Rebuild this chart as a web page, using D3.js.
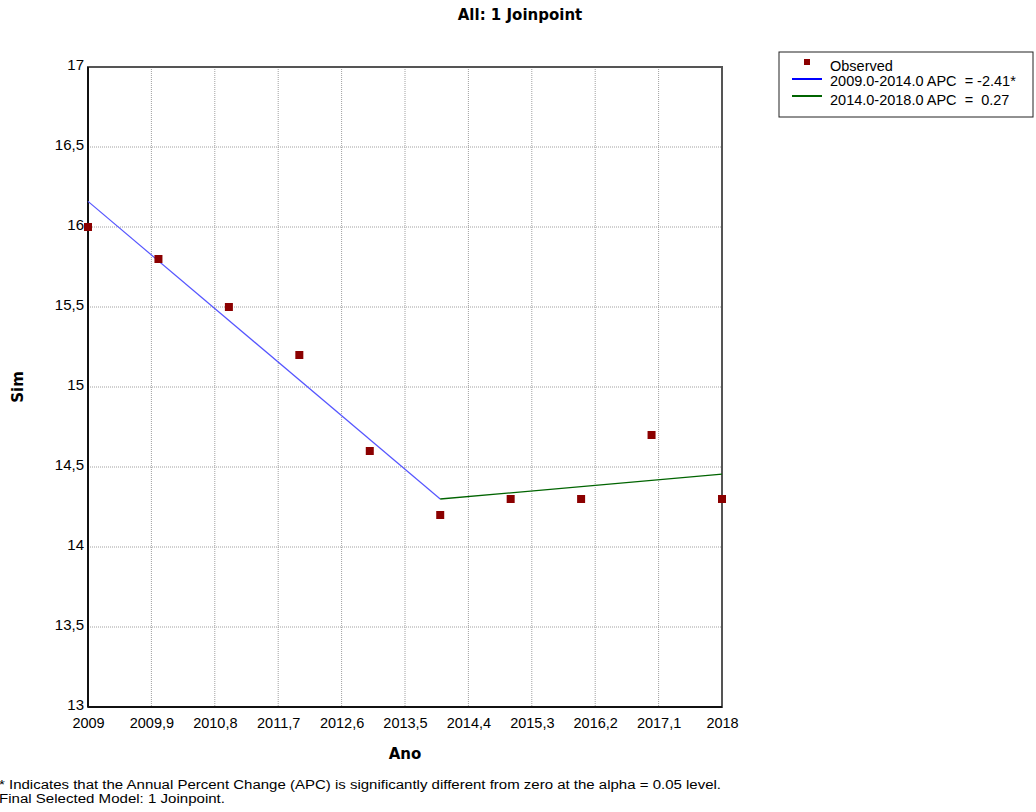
<!DOCTYPE html>
<html>
<head>
<meta charset="utf-8">
<script src="https://cdn.jsdelivr.net/npm/d3@7"></script>
<style>
  body { margin: 0; background: #fff; }
  svg { font-family: "Liberation Sans", Arial, sans-serif; }
  .bold { font-family: "DejaVu Sans", Verdana, sans-serif; font-weight: bold; }
  .pre { white-space: pre; }
</style>
</head>
<body>
<div id="chart"></div>
<script>
// observed values per year
var years = [2009, 2010, 2011, 2012, 2013, 2014, 2015, 2016, 2017, 2018];
var observed = [16.0, 15.8, 15.5, 15.2, 14.6, 14.2, 14.3, 14.3, 14.7, 14.3];

// joinpoint segments (modelled endpoints)
var seg1Years = [2009, 2014];
var seg1Values = [16.16, 14.30];
var seg2Years = [2014, 2018];
var seg2Values = [14.30, 14.455];

var xTicks = [2009, 2009.9, 2010.8, 2011.7, 2012.6, 2013.5, 2014.4, 2015.3, 2016.2, 2017.1, 2018];
var yTicks = [13, 13.5, 14, 14.5, 15, 15.5, 16, 16.5, 17];

var legendLabels = ["Observed", "2009.0-2014.0 APC  = -2.41*", "2014.0-2018.0 APC  =  0.27"];

var outerWidth = 1036, outerHeight = 812;
var margin = {top: 67, right: 314, bottom: 105, left: 88};
var width = outerWidth - margin.left - margin.right,
    height = outerHeight - margin.top - margin.bottom;

var fmt = function (v) { return String(v).replace(".", ","); };

var svg = d3.select("#chart").append("svg")
    .attr("width", outerWidth)
    .attr("height", outerHeight);

var x = d3.scaleLinear().domain([2009, 2018]).range([0, width]);
var y = d3.scaleLinear().domain([13, 17]).range([height, 0]);

var g = svg.append("g").attr("transform", "translate(" + margin.left + "," + margin.top + ")");

// grid
g.selectAll(".vgrid").data(xTicks.slice(1, -1)).enter().append("line")
    .attr("x1", d => x(d)).attr("x2", d => x(d))
    .attr("y1", 0).attr("y2", height)
    .attr("stroke", "#a0a0a0").attr("stroke-width", 1)
    .attr("stroke-dasharray", "1,1");
g.selectAll(".hgrid").data(yTicks.slice(1, -1)).enter().append("line")
    .attr("x1", 0).attr("x2", width)
    .attr("y1", d => y(d)).attr("y2", d => y(d))
    .attr("stroke", "#a0a0a0").attr("stroke-width", 1)
    .attr("stroke-dasharray", "1,1");

// frame
g.append("rect").attr("x", 0).attr("y", 0).attr("width", width).attr("height", height)
    .attr("fill", "none").attr("stroke", "#555").attr("stroke-width", 2);
g.append("line").attr("x1", 0).attr("x2", 0).attr("y1", 0).attr("y2", height)
    .attr("stroke", "#111").attr("stroke-width", 2);
g.append("line").attr("x1", 0).attr("x2", width).attr("y1", height).attr("y2", height)
    .attr("stroke", "#111").attr("stroke-width", 2);

// axes (labels only)
var xAxis = d3.axisBottom(x).tickValues(xTicks).tickSize(0).tickPadding(11).tickFormat(fmt);
var yAxis = d3.axisLeft(y).tickValues(yTicks).tickSize(0).tickPadding(4).tickFormat(fmt);
g.append("g").attr("transform", "translate(0," + height + ")").call(xAxis)
    .call(a => a.select(".domain").remove())
    .selectAll("text").attr("fill", "#000")
    .style("font-size", "14.5px")
    .style("font-family", "Liberation Sans, Arial, sans-serif");
g.append("g").call(yAxis)
    .call(a => a.select(".domain").remove())
    .selectAll("text").attr("fill", "#000")
    .attr("y", -2)
    .style("font-size", "15px")
    .style("font-family", "Liberation Sans, Arial, sans-serif");

// segments
var line = d3.line().x(d => x(d[0])).y(d => y(d[1]));
g.append("path").datum(d3.zip(seg1Years, seg1Values))
    .attr("d", line).attr("fill", "none").attr("stroke", "#5555ff").attr("stroke-width", 1.2);
g.append("path").datum(d3.zip(seg2Years, seg2Values))
    .attr("d", line).attr("fill", "none").attr("stroke", "#006400").attr("stroke-width", 1.3);

// observed points
g.selectAll(".pt").data(d3.zip(years, observed)).enter().append("rect")
    .attr("x", d => x(d[0]) - 4).attr("y", d => y(d[1]) - 4)
    .attr("width", 8).attr("height", 8)
    .attr("fill", "#8b0000");

// title and axis labels
svg.append("text").attr("class", "bold").attr("x", 520).attr("y", 20).attr("text-anchor", "middle")
    .attr("font-size", 15).text("All: 1 Joinpoint");
svg.append("text").attr("class", "bold").attr("x", 405).attr("y", 759).attr("text-anchor", "middle")
    .attr("font-size", 15).text("Ano");
svg.append("text").attr("class", "bold").attr("transform", "translate(23,387) rotate(-90)")
    .attr("text-anchor", "middle").attr("font-size", 15).text("Sim");

// legend
var lg = svg.append("g").attr("transform", "translate(779,52)");
lg.append("rect").attr("width", 254).attr("height", 65)
    .attr("fill", "#fff").attr("stroke", "#222").attr("stroke-width", 1);
lg.append("rect").attr("x", 25).attr("y", 7).attr("width", 6).attr("height", 6).attr("fill", "#8b0000");
lg.append("line").attr("x1", 13).attr("x2", 43).attr("y1", 27).attr("y2", 27)
    .attr("stroke", "#0000ff").attr("stroke-width", 2);
lg.append("line").attr("x1", 13).attr("x2", 43).attr("y1", 44).attr("y2", 44)
    .attr("stroke", "#006400").attr("stroke-width", 2);
lg.selectAll(".lt").data(legendLabels).enter().append("text")
    .attr("class", "pre")
    .attr("x", 51).attr("y", (d, i) => [19, 34, 53][i])
    .attr("font-size", 14.5).text(d => d);

// footnote
var notes = ["* Indicates that the Annual Percent Change (APC) is significantly different from zero at the alpha = 0.05 level.",
             "Final Selected Model: 1 Joinpoint."];
var noteLengths = [722, 226];
svg.selectAll(".note").data(notes).enter().append("text")
    .attr("x", -1).attr("y", (d, i) => 789 + i * 14)
    .attr("font-size", 12.5)
    .attr("textLength", (d, i) => noteLengths[i])
    .attr("lengthAdjust", "spacingAndGlyphs")
    .text(d => d);
</script>
</body>
</html>
